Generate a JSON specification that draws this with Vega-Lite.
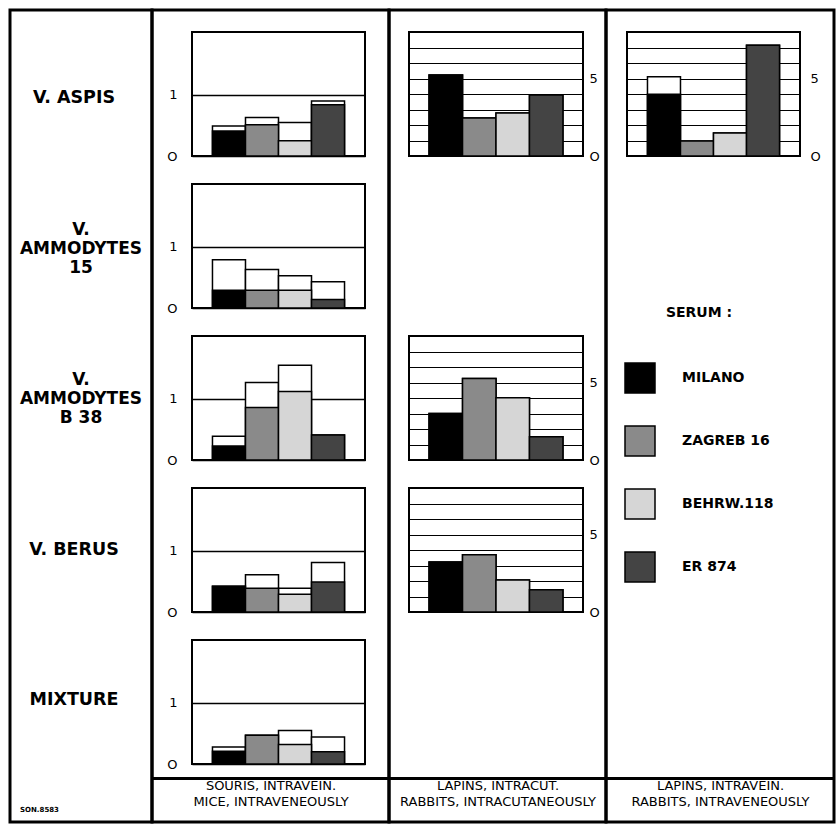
{
"$schema": "https://vega.github.io/schema/vega-lite/v6.json",
"padding": {"left": 8, "top": 8, "right": 4, "bottom": 4},
"background": "white",
"config": {
  "view": {"stroke": "black", "strokeWidth": 2},
  "font": "DejaVu Sans",
  "axis": {"labelFont": "DejaVu Sans", "labelColor": "black", "labelFontSize": 13, "domain": false, "ticks": false, "title": null, "gridColor": "black", "gridOpacity": 1, "labelOverlap": false},
  "text": {"color": "black"},
  "bar": {"stroke": "black", "strokeWidth": 1.5},
  "legend": {"orient": "none", "legendX": 614, "legendY": 296, "titleFontSize": 14, "titleFontWeight": "bold", "titleColor": "black", "titleFont": "DejaVu Sans", "titleAnchor": "middle", "titlePadding": 42, "symbolType": "square", "symbolSize": 900, "symbolStrokeColor": "black", "symbolStrokeWidth": 1.5, "symbolOpacity": 1, "labelFontSize": 14, "labelFontWeight": "bold", "labelColor": "black", "labelFont": "DejaVu Sans", "labelOffset": 26, "rowPadding": 27, "padding": 0}
},
"datasets": {
  "bars": [
    {"species": "V. ASPIS", "test": "mice", "serum": "MILANO", "low": 0.41, "high": 0.49},
    {"species": "V. ASPIS", "test": "mice", "serum": "ZAGREB 16", "low": 0.51, "high": 0.63},
    {"species": "V. ASPIS", "test": "mice", "serum": "BEHRW.118", "low": 0.25, "high": 0.55},
    {"species": "V. ASPIS", "test": "mice", "serum": "ER 874", "low": 0.84, "high": 0.9},
    {"species": "V. AMMODYTES 15", "test": "mice", "serum": "MILANO", "low": 0.29, "high": 0.79},
    {"species": "V. AMMODYTES 15", "test": "mice", "serum": "ZAGREB 16", "low": 0.29, "high": 0.63},
    {"species": "V. AMMODYTES 15", "test": "mice", "serum": "BEHRW.118", "low": 0.29, "high": 0.53},
    {"species": "V. AMMODYTES 15", "test": "mice", "serum": "ER 874", "low": 0.14, "high": 0.43},
    {"species": "V. AMMODYTES B 38", "test": "mice", "serum": "MILANO", "low": 0.23, "high": 0.39},
    {"species": "V. AMMODYTES B 38", "test": "mice", "serum": "ZAGREB 16", "low": 0.86, "high": 1.27},
    {"species": "V. AMMODYTES B 38", "test": "mice", "serum": "BEHRW.118", "low": 1.12, "high": 1.55},
    {"species": "V. AMMODYTES B 38", "test": "mice", "serum": "ER 874", "low": 0.41, "high": 0.41},
    {"species": "V. BERUS", "test": "mice", "serum": "MILANO", "low": 0.42, "high": 0.42},
    {"species": "V. BERUS", "test": "mice", "serum": "ZAGREB 16", "low": 0.39, "high": 0.61},
    {"species": "V. BERUS", "test": "mice", "serum": "BEHRW.118", "low": 0.29, "high": 0.39},
    {"species": "V. BERUS", "test": "mice", "serum": "ER 874", "low": 0.49, "high": 0.81},
    {"species": "MIXTURE", "test": "mice", "serum": "MILANO", "low": 0.21, "high": 0.28},
    {"species": "MIXTURE", "test": "mice", "serum": "ZAGREB 16", "low": 0.47, "high": 0.47},
    {"species": "MIXTURE", "test": "mice", "serum": "BEHRW.118", "low": 0.32, "high": 0.55},
    {"species": "MIXTURE", "test": "mice", "serum": "ER 874", "low": 0.2, "high": 0.44},
    {"species": "V. ASPIS", "test": "intracut", "serum": "MILANO", "low": 5.22, "high": 5.22},
    {"species": "V. ASPIS", "test": "intracut", "serum": "ZAGREB 16", "low": 2.45, "high": 2.45},
    {"species": "V. ASPIS", "test": "intracut", "serum": "BEHRW.118", "low": 2.77, "high": 2.77},
    {"species": "V. ASPIS", "test": "intracut", "serum": "ER 874", "low": 3.94, "high": 3.94},
    {"species": "V. AMMODYTES B 38", "test": "intracut", "serum": "MILANO", "low": 3.0, "high": 3.0},
    {"species": "V. AMMODYTES B 38", "test": "intracut", "serum": "ZAGREB 16", "low": 5.26, "high": 5.26},
    {"species": "V. AMMODYTES B 38", "test": "intracut", "serum": "BEHRW.118", "low": 4.01, "high": 4.01},
    {"species": "V. AMMODYTES B 38", "test": "intracut", "serum": "ER 874", "low": 1.5, "high": 1.5},
    {"species": "V. BERUS", "test": "intracut", "serum": "MILANO", "low": 3.23, "high": 3.23},
    {"species": "V. BERUS", "test": "intracut", "serum": "ZAGREB 16", "low": 3.7, "high": 3.7},
    {"species": "V. BERUS", "test": "intracut", "serum": "BEHRW.118", "low": 2.06, "high": 2.06},
    {"species": "V. BERUS", "test": "intracut", "serum": "ER 874", "low": 1.43, "high": 1.43},
    {"species": "V. ASPIS", "test": "intravein", "serum": "MILANO", "low": 3.99, "high": 5.12},
    {"species": "V. ASPIS", "test": "intravein", "serum": "ZAGREB 16", "low": 0.96, "high": 0.96},
    {"species": "V. ASPIS", "test": "intravein", "serum": "BEHRW.118", "low": 1.49, "high": 1.49},
    {"species": "V. ASPIS", "test": "intravein", "serum": "ER 874", "low": 7.14, "high": 7.14}
  ]
},
"bounds": "flush",
"spacing": 22,
"vconcat": [
  {
    "bounds": "flush", "spacing": 0,
    "hconcat": [
      {
        "width": 142, "height": 812,
        "view": {"stroke": "black", "strokeWidth": 3},
        "data": {"values": [
          {"species": "V. ASPIS", "label": "V. ASPIS", "lines": 1},
          {"species": "V. AMMODYTES 15", "label": "V.\nAMMODYTES\n15", "lines": 3},
          {"species": "V. AMMODYTES B 38", "label": "V.\nAMMODYTES\nB 38", "lines": 3},
          {"species": "V. BERUS", "label": "V. BERUS", "lines": 1},
          {"species": "MIXTURE", "label": "MIXTURE", "lines": 1}
        ]},
        "title": {"text": "SON.8583", "orient": "bottom", "anchor": "start", "offset": -16, "dx": 10, "fontSize": 7, "fontWeight": "bold", "font": "DejaVu Sans", "color": "black"},
        "encoding": {
          "y": {"field": "species", "type": "nominal", "axis": null, "scale": {"type": "point", "padding": 0.698, "align": 0.42, "domain": ["V. ASPIS", "V. AMMODYTES 15", "V. AMMODYTES B 38", "V. BERUS", "MIXTURE"]}},
          "text": {"field": "label"}
        },
        "layer": [
          {"transform": [{"filter": "datum.lines == 1"}], "mark": {"type": "text", "fontSize": 17.5, "fontWeight": "bold", "lineBreak": "\n", "lineHeight": 19, "align": "center", "baseline": "middle", "dx": -7}},
          {"transform": [{"filter": "datum.lines == 3"}], "mark": {"type": "text", "fontSize": 17, "fontWeight": "bold", "lineBreak": "\n", "lineHeight": 19, "align": "center", "baseline": "middle", "dy": -19}}
        ]
      },
      {
        "width": 237, "height": 812, "view": {"stroke": "black", "strokeWidth": 3},
        "data": {"values": [{"v": 0}]},
        "mark": {"type": "text", "text": ""},
        "encoding": {"x": {"field": "v", "type": "quantitative", "scale": {"domain": [0, 1]}, "axis": {"orient": "bottom", "offset": -44, "domain": true, "domainColor": "black", "domainWidth": 3, "labels": false, "ticks": false, "grid": false, "title": ["SOURIS, INTRAVEIN.", "MICE, INTRAVENEOUSLY"], "titleFontSize": 13, "titleFontWeight": "normal", "titleColor": "black", "titleFont": "DejaVu Sans", "titlePadding": 1, "titleLineHeight": 16}}}
      },
      {
        "width": 217, "height": 812, "view": {"stroke": "black", "strokeWidth": 3},
        "data": {"values": [{"v": 0}]},
        "mark": {"type": "text", "text": ""},
        "encoding": {"x": {"field": "v", "type": "quantitative", "scale": {"domain": [0, 1]}, "axis": {"orient": "bottom", "offset": -44, "domain": true, "domainColor": "black", "domainWidth": 3, "labels": false, "ticks": false, "grid": false, "title": ["LAPINS, INTRACUT.", "RABBITS, INTRACUTANEOUSLY"], "titleFontSize": 13, "titleFontWeight": "normal", "titleColor": "black", "titleFont": "DejaVu Sans", "titlePadding": 1, "titleLineHeight": 16}}}
      },
      {
        "width": 228, "height": 812, "view": {"stroke": "black", "strokeWidth": 3},
        "data": {"values": [{"v": 0}]},
        "mark": {"type": "text", "text": ""},
        "encoding": {"x": {"field": "v", "type": "quantitative", "scale": {"domain": [0, 1]}, "axis": {"orient": "bottom", "offset": -44, "domain": true, "domainColor": "black", "domainWidth": 3, "labels": false, "ticks": false, "grid": false, "title": ["LAPINS, INTRAVEIN.", "RABBITS, INTRAVENEOUSLY"], "titleFontSize": 13, "titleFontWeight": "normal", "titleColor": "black", "titleFont": "DejaVu Sans", "titlePadding": 1, "titleLineHeight": 16}}}
      }
    ]
  },
  {
    "bounds": "flush", "align": "each", "columns": 4, "spacing": {"row": 28, "column": 44},
    "concat": [
      {"width": 138, "height": 124, "view": {"stroke": null}, "data": {"values": [{}]}, "mark": "text", "encoding": {"text": {"value": ""}}},
      {
        "width": 173, "height": 124, "data": {"name": "bars"},
        "transform": [{"filter": "datum.test === 'mice' && datum.species === 'V. ASPIS'"}],
        "encoding": {"x": {"field": "serum", "type": "nominal", "axis": null, "scale": {"domain": ["MILANO", "ZAGREB 16", "BEHRW.118", "ER 874"], "paddingInner": 0, "paddingOuter": 0.62}}},
        "layer": [
          {"mark": {"type": "bar", "fill": "white"}, "encoding": {"y": {"field": "high", "type": "quantitative", "scale": {"domain": [0, 2.03], "nice": false}, "axis": {"values": [0, 1], "grid": true, "gridWidth": 1.3, "labelExpr": "datum.value == 0 ? 'O' : '1'", "labelPadding": 15}}}},
          {"mark": {"type": "bar"}, "encoding": {"y": {"field": "low", "type": "quantitative", "scale": {"domain": [0, 2.03], "nice": false}, "axis": {"values": [0, 1], "grid": true, "gridWidth": 1.3, "labelExpr": "datum.value == 0 ? 'O' : '1'", "labelPadding": 15}}, "fill": {"field": "serum", "type": "nominal", "title": "SERUM :", "scale": {"domain": ["MILANO", "ZAGREB 16", "BEHRW.118", "ER 874"], "range": ["#000000", "#8a8a8a", "#d6d6d6", "#444444"]}}}}
        ]
      },
      {
        "width": 174, "height": 124, "data": {"name": "bars"},
        "transform": [{"filter": "datum.test === 'intracut' && datum.species === 'V. ASPIS'"}],
        "encoding": {"x": {"field": "serum", "type": "nominal", "axis": null, "scale": {"domain": ["MILANO", "ZAGREB 16", "BEHRW.118", "ER 874"], "paddingInner": 0, "paddingOuter": 0.6}}},
        "layer": [
          {"mark": {"type": "bar", "fill": "white"}, "encoding": {"y": {"field": "high", "type": "quantitative", "scale": {"domain": [0, 8], "nice": false}, "axis": {"orient": "right", "values": [0, 1, 2, 3, 4, 5, 6, 7, 8], "grid": true, "gridWidth": 1.2, "labelExpr": "datum.value == 0 ? 'O' : (datum.value == 5 ? '5' : '')", "labelPadding": 6}}}},
          {"mark": {"type": "bar"}, "encoding": {"y": {"field": "low", "type": "quantitative", "scale": {"domain": [0, 8], "nice": false}, "axis": {"orient": "right", "values": [0, 1, 2, 3, 4, 5, 6, 7, 8], "grid": true, "gridWidth": 1.2, "labelExpr": "datum.value == 0 ? 'O' : (datum.value == 5 ? '5' : '')", "labelPadding": 6}}, "fill": {"field": "serum", "type": "nominal", "title": "SERUM :", "scale": {"domain": ["MILANO", "ZAGREB 16", "BEHRW.118", "ER 874"], "range": ["#000000", "#8a8a8a", "#d6d6d6", "#444444"]}}}}
        ]
      },
      {
        "width": 173, "height": 124, "data": {"name": "bars"},
        "transform": [{"filter": "datum.test === 'intravein' && datum.species === 'V. ASPIS'"}],
        "encoding": {"x": {"field": "serum", "type": "nominal", "axis": null, "scale": {"domain": ["MILANO", "ZAGREB 16", "BEHRW.118", "ER 874"], "paddingInner": 0, "paddingOuter": 0.62}}},
        "layer": [
          {"mark": {"type": "bar", "fill": "white"}, "encoding": {"y": {"field": "high", "type": "quantitative", "scale": {"domain": [0, 8], "nice": false}, "axis": {"orient": "right", "values": [0, 1, 2, 3, 4, 5, 6, 7, 8], "grid": true, "gridWidth": 1.2, "labelExpr": "datum.value == 0 ? 'O' : (datum.value == 5 ? '5' : '')", "labelPadding": 10}}}},
          {"mark": {"type": "bar"}, "encoding": {"y": {"field": "low", "type": "quantitative", "scale": {"domain": [0, 8], "nice": false}, "axis": {"orient": "right", "values": [0, 1, 2, 3, 4, 5, 6, 7, 8], "grid": true, "gridWidth": 1.2, "labelExpr": "datum.value == 0 ? 'O' : (datum.value == 5 ? '5' : '')", "labelPadding": 10}}, "fill": {"field": "serum", "type": "nominal", "title": "SERUM :", "scale": {"domain": ["MILANO", "ZAGREB 16", "BEHRW.118", "ER 874"], "range": ["#000000", "#8a8a8a", "#d6d6d6", "#444444"]}}}}
        ]
      },
      {"width": 138, "height": 124, "view": {"stroke": null}, "data": {"values": [{}]}, "mark": "text", "encoding": {"text": {"value": ""}}},
      {
        "width": 173, "height": 124, "data": {"name": "bars"},
        "transform": [{"filter": "datum.test === 'mice' && datum.species === 'V. AMMODYTES 15'"}],
        "encoding": {"x": {"field": "serum", "type": "nominal", "axis": null, "scale": {"domain": ["MILANO", "ZAGREB 16", "BEHRW.118", "ER 874"], "paddingInner": 0, "paddingOuter": 0.62}}},
        "layer": [
          {"mark": {"type": "bar", "fill": "white"}, "encoding": {"y": {"field": "high", "type": "quantitative", "scale": {"domain": [0, 2.03], "nice": false}, "axis": {"values": [0, 1], "grid": true, "gridWidth": 1.3, "labelExpr": "datum.value == 0 ? 'O' : '1'", "labelPadding": 15}}}},
          {"mark": {"type": "bar"}, "encoding": {"y": {"field": "low", "type": "quantitative", "scale": {"domain": [0, 2.03], "nice": false}, "axis": {"values": [0, 1], "grid": true, "gridWidth": 1.3, "labelExpr": "datum.value == 0 ? 'O' : '1'", "labelPadding": 15}}, "fill": {"field": "serum", "type": "nominal", "title": "SERUM :", "scale": {"domain": ["MILANO", "ZAGREB 16", "BEHRW.118", "ER 874"], "range": ["#000000", "#8a8a8a", "#d6d6d6", "#444444"]}}}}
        ]
      },
      {"width": 174, "height": 124, "view": {"stroke": null}, "data": {"values": [{}]}, "mark": "text", "encoding": {"text": {"value": ""}}},
      {"width": 173, "height": 124, "view": {"stroke": null}, "data": {"values": [{}]}, "mark": "text", "encoding": {"text": {"value": ""}}},
      {"width": 138, "height": 124, "view": {"stroke": null}, "data": {"values": [{}]}, "mark": "text", "encoding": {"text": {"value": ""}}},
      {
        "width": 173, "height": 124, "data": {"name": "bars"},
        "transform": [{"filter": "datum.test === 'mice' && datum.species === 'V. AMMODYTES B 38'"}],
        "encoding": {"x": {"field": "serum", "type": "nominal", "axis": null, "scale": {"domain": ["MILANO", "ZAGREB 16", "BEHRW.118", "ER 874"], "paddingInner": 0, "paddingOuter": 0.62}}},
        "layer": [
          {"mark": {"type": "bar", "fill": "white"}, "encoding": {"y": {"field": "high", "type": "quantitative", "scale": {"domain": [0, 2.03], "nice": false}, "axis": {"values": [0, 1], "grid": true, "gridWidth": 1.3, "labelExpr": "datum.value == 0 ? 'O' : '1'", "labelPadding": 15}}}},
          {"mark": {"type": "bar"}, "encoding": {"y": {"field": "low", "type": "quantitative", "scale": {"domain": [0, 2.03], "nice": false}, "axis": {"values": [0, 1], "grid": true, "gridWidth": 1.3, "labelExpr": "datum.value == 0 ? 'O' : '1'", "labelPadding": 15}}, "fill": {"field": "serum", "type": "nominal", "title": "SERUM :", "scale": {"domain": ["MILANO", "ZAGREB 16", "BEHRW.118", "ER 874"], "range": ["#000000", "#8a8a8a", "#d6d6d6", "#444444"]}}}}
        ]
      },
      {
        "width": 174, "height": 124, "data": {"name": "bars"},
        "transform": [{"filter": "datum.test === 'intracut' && datum.species === 'V. AMMODYTES B 38'"}],
        "encoding": {"x": {"field": "serum", "type": "nominal", "axis": null, "scale": {"domain": ["MILANO", "ZAGREB 16", "BEHRW.118", "ER 874"], "paddingInner": 0, "paddingOuter": 0.6}}},
        "layer": [
          {"mark": {"type": "bar", "fill": "white"}, "encoding": {"y": {"field": "high", "type": "quantitative", "scale": {"domain": [0, 8], "nice": false}, "axis": {"orient": "right", "values": [0, 1, 2, 3, 4, 5, 6, 7, 8], "grid": true, "gridWidth": 1.2, "labelExpr": "datum.value == 0 ? 'O' : (datum.value == 5 ? '5' : '')", "labelPadding": 6}}}},
          {"mark": {"type": "bar"}, "encoding": {"y": {"field": "low", "type": "quantitative", "scale": {"domain": [0, 8], "nice": false}, "axis": {"orient": "right", "values": [0, 1, 2, 3, 4, 5, 6, 7, 8], "grid": true, "gridWidth": 1.2, "labelExpr": "datum.value == 0 ? 'O' : (datum.value == 5 ? '5' : '')", "labelPadding": 6}}, "fill": {"field": "serum", "type": "nominal", "title": "SERUM :", "scale": {"domain": ["MILANO", "ZAGREB 16", "BEHRW.118", "ER 874"], "range": ["#000000", "#8a8a8a", "#d6d6d6", "#444444"]}}}}
        ]
      },
      {"width": 173, "height": 124, "view": {"stroke": null}, "data": {"values": [{}]}, "mark": "text", "encoding": {"text": {"value": ""}}},
      {"width": 138, "height": 124, "view": {"stroke": null}, "data": {"values": [{}]}, "mark": "text", "encoding": {"text": {"value": ""}}},
      {
        "width": 173, "height": 124, "data": {"name": "bars"},
        "transform": [{"filter": "datum.test === 'mice' && datum.species === 'V. BERUS'"}],
        "encoding": {"x": {"field": "serum", "type": "nominal", "axis": null, "scale": {"domain": ["MILANO", "ZAGREB 16", "BEHRW.118", "ER 874"], "paddingInner": 0, "paddingOuter": 0.62}}},
        "layer": [
          {"mark": {"type": "bar", "fill": "white"}, "encoding": {"y": {"field": "high", "type": "quantitative", "scale": {"domain": [0, 2.03], "nice": false}, "axis": {"values": [0, 1], "grid": true, "gridWidth": 1.3, "labelExpr": "datum.value == 0 ? 'O' : '1'", "labelPadding": 15}}}},
          {"mark": {"type": "bar"}, "encoding": {"y": {"field": "low", "type": "quantitative", "scale": {"domain": [0, 2.03], "nice": false}, "axis": {"values": [0, 1], "grid": true, "gridWidth": 1.3, "labelExpr": "datum.value == 0 ? 'O' : '1'", "labelPadding": 15}}, "fill": {"field": "serum", "type": "nominal", "title": "SERUM :", "scale": {"domain": ["MILANO", "ZAGREB 16", "BEHRW.118", "ER 874"], "range": ["#000000", "#8a8a8a", "#d6d6d6", "#444444"]}}}}
        ]
      },
      {
        "width": 174, "height": 124, "data": {"name": "bars"},
        "transform": [{"filter": "datum.test === 'intracut' && datum.species === 'V. BERUS'"}],
        "encoding": {"x": {"field": "serum", "type": "nominal", "axis": null, "scale": {"domain": ["MILANO", "ZAGREB 16", "BEHRW.118", "ER 874"], "paddingInner": 0, "paddingOuter": 0.6}}},
        "layer": [
          {"mark": {"type": "bar", "fill": "white"}, "encoding": {"y": {"field": "high", "type": "quantitative", "scale": {"domain": [0, 8], "nice": false}, "axis": {"orient": "right", "values": [0, 1, 2, 3, 4, 5, 6, 7, 8], "grid": true, "gridWidth": 1.2, "labelExpr": "datum.value == 0 ? 'O' : (datum.value == 5 ? '5' : '')", "labelPadding": 6}}}},
          {"mark": {"type": "bar"}, "encoding": {"y": {"field": "low", "type": "quantitative", "scale": {"domain": [0, 8], "nice": false}, "axis": {"orient": "right", "values": [0, 1, 2, 3, 4, 5, 6, 7, 8], "grid": true, "gridWidth": 1.2, "labelExpr": "datum.value == 0 ? 'O' : (datum.value == 5 ? '5' : '')", "labelPadding": 6}}, "fill": {"field": "serum", "type": "nominal", "title": "SERUM :", "scale": {"domain": ["MILANO", "ZAGREB 16", "BEHRW.118", "ER 874"], "range": ["#000000", "#8a8a8a", "#d6d6d6", "#444444"]}}}}
        ]
      },
      {"width": 173, "height": 124, "view": {"stroke": null}, "data": {"values": [{}]}, "mark": "text", "encoding": {"text": {"value": ""}}},
      {"width": 138, "height": 124, "view": {"stroke": null}, "data": {"values": [{}]}, "mark": "text", "encoding": {"text": {"value": ""}}},
      {
        "width": 173, "height": 124, "data": {"name": "bars"},
        "transform": [{"filter": "datum.test === 'mice' && datum.species === 'MIXTURE'"}],
        "encoding": {"x": {"field": "serum", "type": "nominal", "axis": null, "scale": {"domain": ["MILANO", "ZAGREB 16", "BEHRW.118", "ER 874"], "paddingInner": 0, "paddingOuter": 0.62}}},
        "layer": [
          {"mark": {"type": "bar", "fill": "white"}, "encoding": {"y": {"field": "high", "type": "quantitative", "scale": {"domain": [0, 2.03], "nice": false}, "axis": {"values": [0, 1], "grid": true, "gridWidth": 1.3, "labelExpr": "datum.value == 0 ? 'O' : '1'", "labelPadding": 15}}}},
          {"mark": {"type": "bar"}, "encoding": {"y": {"field": "low", "type": "quantitative", "scale": {"domain": [0, 2.03], "nice": false}, "axis": {"values": [0, 1], "grid": true, "gridWidth": 1.3, "labelExpr": "datum.value == 0 ? 'O' : '1'", "labelPadding": 15}}, "fill": {"field": "serum", "type": "nominal", "title": "SERUM :", "scale": {"domain": ["MILANO", "ZAGREB 16", "BEHRW.118", "ER 874"], "range": ["#000000", "#8a8a8a", "#d6d6d6", "#444444"]}}}}
        ]
      }
    ]
  }
]
}
